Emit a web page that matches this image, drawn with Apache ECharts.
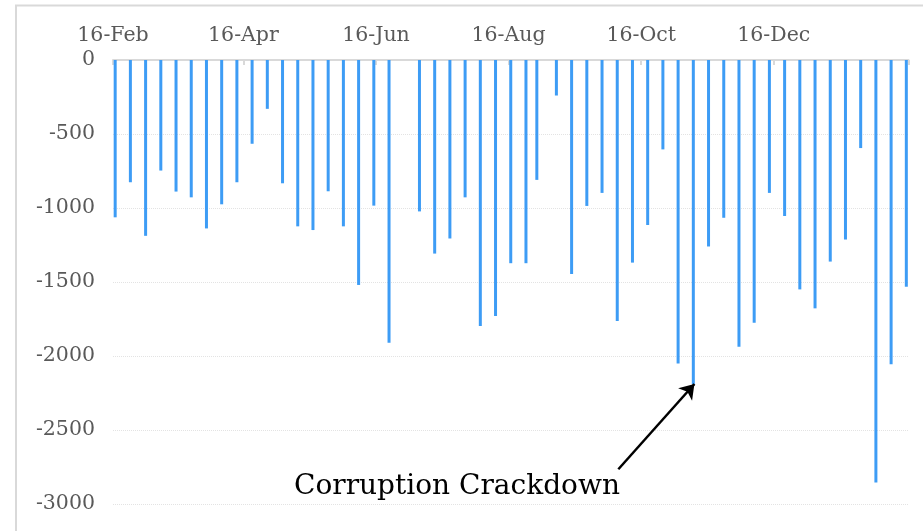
<!DOCTYPE html>
<html>
<head>
<meta charset="utf-8">
<script src="https://cdn.jsdelivr.net/npm/echarts@6/dist/echarts.min.js"></script>
<style>
html, body { margin: 0; padding: 0; background: #fff; }
#chart { width: 923px; height: 531px; }
</style>
</head>
<body>
<div id="chart"></div>
<script>
// weekly dates (one week in June has no figure, one in August came in early)
const weekDates = [
    '2016-02-02', '2016-02-09', '2016-02-16', '2016-02-23', '2016-03-01', '2016-03-08',
    '2016-03-15', '2016-03-22', '2016-03-29', '2016-04-05', '2016-04-12', '2016-04-19',
    '2016-04-26', '2016-05-03', '2016-05-10', '2016-05-17', '2016-05-24', '2016-05-31',
    '2016-06-07', '2016-06-21', '2016-06-28', '2016-07-05', '2016-07-12', '2016-07-19',
    '2016-07-26', '2016-08-02', '2016-08-09', '2016-08-14', '2016-08-23', '2016-08-30',
    '2016-09-06', '2016-09-13', '2016-09-20', '2016-09-27', '2016-10-04', '2016-10-11',
    '2016-10-18', '2016-10-25', '2016-11-01', '2016-11-08', '2016-11-15', '2016-11-22',
    '2016-11-29', '2016-12-06', '2016-12-13', '2016-12-20', '2016-12-27', '2017-01-03',
    '2017-01-10', '2017-01-17', '2017-01-24', '2017-01-31'
];
const flowValues = [
    -1063, -826, -1188, -747, -889, -928,
    -1138, -975, -826, -566, -330, -833,
    -1124, -1149, -887, -1124, -1520, -984,
    -1910, -1023, -1308, -1206, -928, -1797,
    -1730, -1373, -1373, -810, -240, -1446,
    -986, -898, -1764, -1369, -1115, -604,
    -2050, -2189, -1260, -1066, -1937, -1775,
    -898, -1054, -1550, -1678, -1362, -1213,
    -595, -2854, -2056, -1532
];
const tickDates = ['2016-02-01', '2016-04-01', '2016-06-01', '2016-08-01', '2016-10-01', '2016-12-01'];
const tickLabels = ['16-Feb', '16-Apr', '16-Jun', '16-Aug', '16-Oct', '16-Dec'];
const axisStart = '2016-02-01';
const axisEnd = '2017-02-01';

// annotation
const noteText = 'Corruption Crackdown';
const notePoint = ['2016-07-08T06:00', -2880];
const arrowFrom = ['2016-09-20T12:00', -2765];
const arrowTo = ['2016-10-25T12:00', -2189];

const ts = d => new Date(d + (d.length === 10 ? 'T00:00:00Z' : ':00Z')).getTime();
const tickStamps = tickDates.map(ts);

const myChart = echarts.init(document.getElementById('chart'));
myChart.setOption({
    animation: false,
    textStyle: {
        fontFamily: 'DejaVu Serif'
    },
    graphic: [
        {
            type: 'rect',
            shape: {x: 16, y: 5.5, width: 1000, height: 600},
            style: {fill: 'none', stroke: '#d9d9d9', lineWidth: 2},
            silent: true
        }
    ],
    grid: {
        left: 113,
        right: 14.5,
        top: 60,
        bottom: 27
    },
    xAxis: {
        type: 'value',
        position: 'top',
        min: ts(axisStart),
        max: ts(axisEnd),
        axisLine: {
            show: true,
            lineStyle: {color: '#d9d9d9', width: 2}
        },
        axisTick: {
            show: true,
            inside: true,
            length: 5,
            customValues: tickStamps.concat([ts(axisEnd)]),
            lineStyle: {color: '#d9d9d9', width: 2}
        },
        axisLabel: {
            customValues: tickStamps,
            margin: 14,
            color: '#595959',
            fontSize: 20.5,
            fontFamily: 'DejaVu Serif',
            formatter: function (value) {
                const i = tickStamps.indexOf(value);
                return i >= 0 ? tickLabels[i] : '';
            }
        },
        splitLine: {show: false}
    },
    yAxis: {
        type: 'value',
        min: -3000,
        max: 0,
        interval: 500,
        axisLine: {show: false},
        axisTick: {show: false},
        axisLabel: {
            margin: 18,
            color: '#595959',
            fontSize: 20.5,
            fontFamily: 'DejaVu Serif',
            formatter: v => String(v)
        },
        splitLine: {
            show: true,
            lineStyle: {color: '#e3e3e3', type: 'dotted', width: 1}
        }
    },
    series: [
        {
            type: 'bar',
            barWidth: 3,
            itemStyle: {color: '#3d9cf5'},
            data: weekDates.map((d, i) => [ts(d), flowValues[i]]),
            markLine: {
                silent: true,
                symbol: ['none', 'arrow'],
                symbolSize: 14,
                label: {show: false},
                lineStyle: {color: '#000', width: 2.5, type: 'solid'},
                data: [[
                    {coord: [ts(arrowFrom[0]), arrowFrom[1]]},
                    {coord: [ts(arrowTo[0]), arrowTo[1]]}
                ]]
            },
            markPoint: {
                silent: true,
                symbolSize: 0,
                label: {
                    show: true,
                    position: 'inside',
                    formatter: noteText,
                    color: '#000',
                    fontSize: 28,
                    fontFamily: 'DejaVu Serif'
                },
                data: [{coord: [ts(notePoint[0]), notePoint[1]]}]
            }
        }
    ]
});
</script>
</body>
</html>
